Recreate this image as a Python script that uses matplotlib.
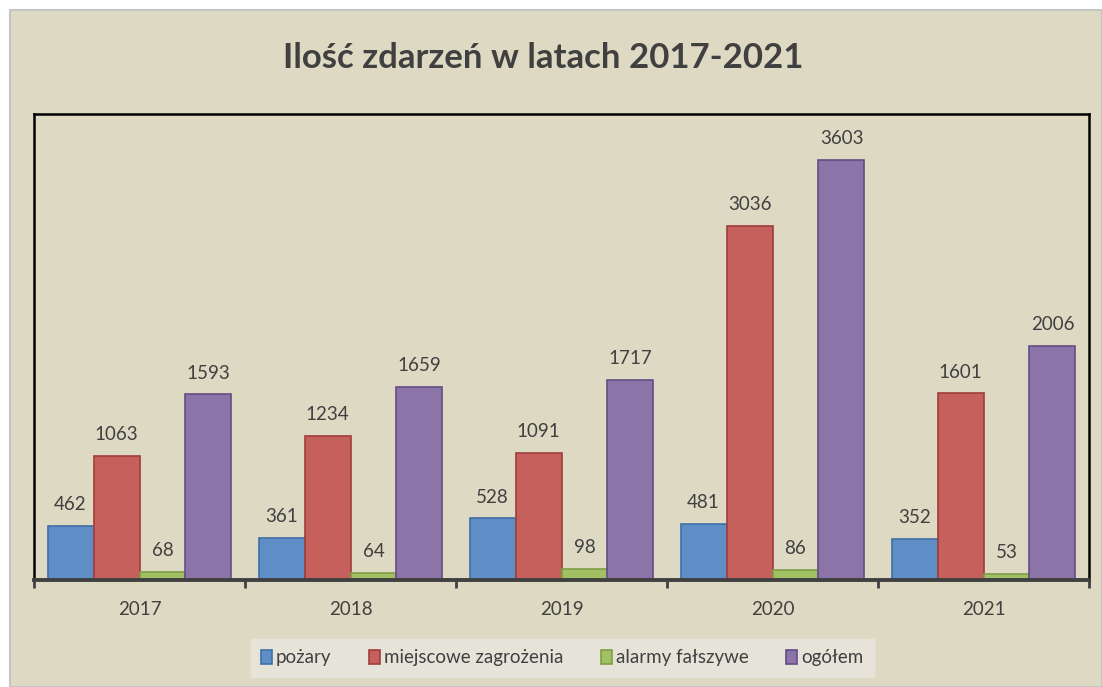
import matplotlib
matplotlib.use("Agg")
import matplotlib.pyplot as plt
import numpy as np
from matplotlib.patches import Rectangle

years = ["2017", "2018", "2019", "2020", "2021"]
series_names = ["pożary", "miejscowe zagrożenia", "alarmy fałszywe", "ogółem"]
pozary = [462, 361, 528, 481, 352]
miejscowe = [1063, 1234, 1091, 3036, 1601]
alarmy = [68, 64, 98, 86, 53]
ogolem = [1593, 1659, 1717, 3603, 2006]
title = "Ilość zdarzeń w latach 2017-2021"

fills = ["#5F8DC5", "#C6605D", "#A0C063", "#8B74A8"]
edges = ["#3F6FA6", "#A03E3B", "#7F9E45", "#654C85"]
bg = "#DDD9C3"
txt = "#404040"
font = "Lato"

fig = plt.figure(figsize=(11.02, 6.87), dpi=100, facecolor="white")
fig.patches.append(Rectangle((10/1102, 0), 1 - 10/1102, 1 - 10/687, transform=fig.transFigure,
                             facecolor=bg, edgecolor="#C4C4C4", linewidth=1.5, zorder=-10))

ax = fig.add_axes([34/1102, 1 - 580/687, (1089-34)/1102, (580-114)/687])
ax.set_facecolor(bg)

data = [pozary, miejscowe, alarmy, ogolem]
n = len(data)
x = np.arange(len(years))
bw = 0.218
for i, (vals, name) in enumerate(zip(data, series_names)):
    pos = x + (i - (n - 1) / 2) * bw
    ax.bar(pos, vals, width=bw, color=fills[i], edgecolor=edges[i], linewidth=1.2,
           label=name, zorder=3)
    for p, v in zip(pos, vals):
        ax.text(p, v + 110, str(v), ha="center", va="bottom", fontsize=13.5,
                color=txt, family=font)

ax.set_xlim(-0.5, len(years) - 0.5)
ax.set_ylim(0, 4000)
ax.set_yticks([])
ax.set_xticks(x)
ax.set_xticklabels(years, fontsize=13.5, color=txt, family=font)
ax.tick_params(axis="x", length=0, pad=15)
ax.set_xticks(np.arange(-0.5, len(years)), minor=True)
ax.tick_params(axis="x", which="minor", length=6, width=2, color="#404040", direction="out")
for s in ["top", "left", "right"]:
    ax.spines[s].set_color("black")
    ax.spines[s].set_linewidth(1.8)
ax.spines["bottom"].set_color("#404040")
ax.spines["bottom"].set_linewidth(2.8)
ax.spines["bottom"].set_zorder(5)

fig.text(543/1102, 1 - 58/687, title, ha="center", va="center", fontsize=25,
         fontweight="bold", color=txt, family=font)

leg = fig.legend(loc="center", bbox_to_anchor=(562/1102, 1 - 658/687), ncol=4,
                 frameon=True, fancybox=False, prop={"family": font, "size": 13.5},
                 handlelength=0.6, handleheight=0.7, handletextpad=0.2, columnspacing=2.0,
                 borderpad=0.55)
leg.get_frame().set_facecolor("#E6E4D8")
leg.get_frame().set_edgecolor("#E6E4D8")
leg.get_frame().set_alpha(1)
for t in leg.get_texts():
    t.set_color(txt)

fig.savefig("out.png", dpi=100, facecolor="white")
